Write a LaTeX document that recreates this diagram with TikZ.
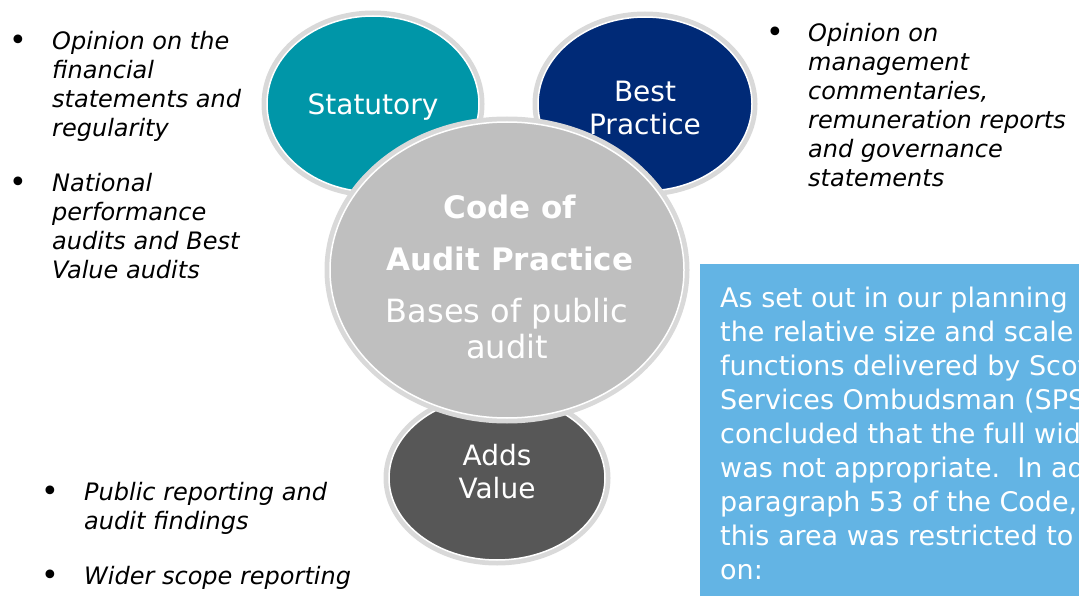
\documentclass[tikz,border=0pt]{standalone}
\usepackage{fontspec}
\setmainfont{DejaVu Sans}
\usetikzlibrary{shapes.geometric}

\definecolor{statteal}{HTML}{0096A8}
\definecolor{bestnavy}{HTML}{002A77}
\definecolor{codegray}{HTML}{BFBFBF}
\definecolor{addsgray}{HTML}{575757}
\definecolor{ringgray}{HTML}{D9D9D9}
\definecolor{boxblue}{HTML}{63B4E4}

\tikzset{
  bubble/.style={ellipse, inner sep=0pt, draw=white, line width=1.5pt,
    preaction={draw=ringgray, line width=11pt}},
  bubbletext/.style={text=white, align=center, inner sep=0pt,
    font=\fontsize{28}{33}\selectfont},
  dot/.style={inner sep=0pt, font=\fontsize{30}{30}\selectfont},
  itemtext/.style={inner sep=0pt, anchor=north west, align=left,
    font=\fontsize{24}{29}\selectfont\itshape},
  boxtext/.style={inner sep=0pt, anchor=north west, align=left, text=white,
    font=\fontsize{27}{34}\selectfont}
}

\begin{document}
\begin{tikzpicture}[x=1pt,y=-1pt]
  \useasboundingbox (0,0) rectangle (1079,596);

  % the four bubbles
  \node[bubble, fill=statteal, minimum width=212, minimum height=176] (stat) at (373,104) {};
  \node[bubble, fill=bestnavy, minimum width=214, minimum height=174] (best) at (645,104) {};
  \node[bubble, fill=addsgray, minimum width=216, minimum height=164] (adds) at (497,478) {};
  \node[bubble, fill=codegray, minimum width=354, minimum height=296] (code) at (507,270) {};

  \node[bubbletext] (statlabel) at (373,107) {Statutory};
  \node[bubbletext] (bestlabel) at (645,108) {Best\\Practice};
  \node[bubbletext] (addslabel) at (497,472) {Adds\\Value};
  \node[text=white, align=center, inner sep=0pt, font=\fontsize{31}{52}\selectfont\bfseries] (codetitle) at (510,233) {Code of\\Audit Practice};
  \node[text=white, align=center, inner sep=0pt, font=\fontsize{32}{36}\selectfont] (codebases) at (507,329) {Bases of public\\audit};

  % bullet lists
  \node[dot] (dotfin) at (18,43) {•};
  \node[itemtext] (fin) at (52,31) {Opinion on the\\financial\\statements and\\regularity};
  \node[dot] (dotnat) at (18,185) {•};
  \node[itemtext] (nat) at (52,173) {National\\performance\\audits and Best\\Value audits};
  \node[dot] (dotman) at (775,35) {•};
  \node[itemtext] (man) at (808,23) {Opinion on\\management\\commentaries,\\remuneration reports\\and governance\\statements};
  \node[dot] (dotpub) at (50,494) {•};
  \node[itemtext] (pub) at (84,482) {Public reporting and\\audit findings};
  \node[dot] (dotwid) at (50,578) {•};
  \node[itemtext] (wid) at (84,566) {Wider scope reporting};

  % SPSO note
  \fill[boxblue] (700,264) rectangle (1079,596);
  \begin{scope}
    \clip (700,264) rectangle (1079,596);
    \node[boxtext] (note) at (720,287) {As set out in our planning\\the relative size and scale\\functions delivered by Scot\\Services Ombudsman (SPS\\concluded that the full wide\\was not appropriate.\ \ In ad\\paragraph 53 of the Code,\\this area was restricted to\\on:};
  \end{scope}
\end{tikzpicture}
\end{document}
